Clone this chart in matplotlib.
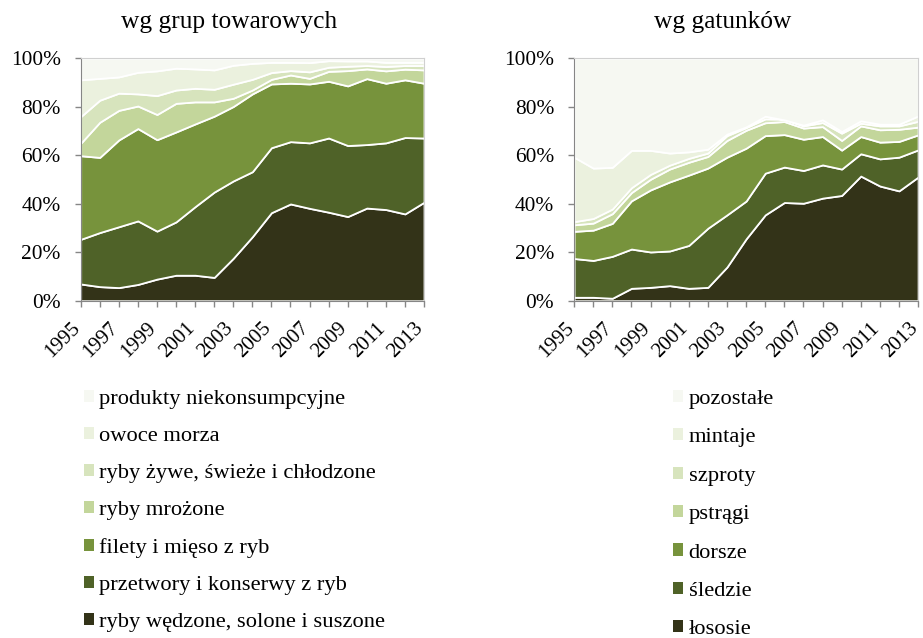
import matplotlib
matplotlib.use("Agg")
import matplotlib.pyplot as plt
import numpy as np

plt.rcParams['font.family'] = ['Liberation Serif', 'DejaVu Serif']

years = list(range(1995, 2014))

# --- wg grup towarowych (cumulative shares, %) ---
groups_labels = ["ryby wędzone, solone i suszone", "przetwory i konserwy z ryb",
                 "filety i mięso z ryb", "ryby mrożone",
                 "ryby żywe, świeże i chłodzone", "owoce morza",
                 "produkty niekonsumpcyjne"]
g_cum1 = [6.9, 5.8, 5.4, 6.7, 8.9, 10.5, 10.5, 9.6, 17.5, 26.4, 36.3, 39.9, 38.1, 36.5, 34.7, 38.2, 37.6, 35.8, 40.6]
g_cum2 = [25.3, 28.1, 30.5, 32.9, 28.7, 32.5, 38.8, 44.8, 49.4, 53.2, 63.1, 65.6, 65.1, 67.1, 64.0, 64.4, 65.1, 67.3, 67.1]
g_cum3 = [59.8, 59.1, 66.3, 71.0, 66.4, 69.6, 72.9, 76.1, 80.1, 85.3, 89.4, 89.7, 89.4, 90.5, 88.6, 91.6, 89.7, 91.1, 89.7]
g_cum4 = [64.9, 73.6, 78.5, 80.3, 76.8, 81.4, 82.0, 82.0, 83.5, 86.9, 91.3, 93.1, 91.7, 94.6, 94.9, 95.6, 94.8, 95.5, 95.2]
g_cum5 = [75.9, 82.7, 85.6, 85.3, 84.6, 86.9, 87.6, 87.2, 89.3, 91.3, 94.1, 94.9, 94.4, 96.3, 96.7, 97.0, 96.6, 97.0, 97.0]
g_cum6 = [91.1, 91.7, 92.3, 94.2, 94.8, 95.9, 95.6, 95.2, 97.1, 97.9, 98.3, 98.3, 98.2, 99.0, 98.9, 98.9, 98.3, 98.3, 98.3]

# --- wg gatunków (cumulative shares, %) ---
species_labels = ["łososie", "śledzie", "dorsze", "pstrągi", "szproty", "mintaje", "pozostałe"]
s_cum1 = [1.4, 1.4, 1.0, 5.1, 5.5, 6.2, 5.1, 5.5, 13.9, 25.5, 35.4, 40.5, 40.2, 42.3, 43.4, 51.4, 47.3, 45.3, 51.0]
s_cum2 = [17.4, 16.6, 18.3, 21.3, 20.1, 20.5, 22.8, 29.9, 35.4, 41.1, 52.6, 55.1, 53.7, 56.0, 54.3, 60.6, 58.5, 59.2, 62.2]
s_cum3 = [28.6, 29.1, 31.9, 41.2, 45.7, 49.0, 51.8, 54.7, 59.2, 62.9, 68.1, 68.5, 66.6, 67.7, 62.1, 67.7, 65.4, 65.7, 68.4]
s_cum4 = [31.3, 32.0, 35.9, 44.6, 50.1, 54.3, 57.1, 59.5, 66.1, 70.3, 73.4, 73.9, 71.2, 71.8, 66.1, 72.1, 70.5, 70.7, 71.6]
s_cum5 = [32.6, 33.9, 37.8, 46.6, 52.1, 55.9, 58.7, 60.9, 68.1, 71.4, 75.0, 74.9, 72.1, 73.5, 69.1, 73.2, 72.1, 72.1, 74.0]
s_cum6 = [59.2, 54.7, 55.0, 62.0, 62.0, 60.9, 61.4, 62.5, 68.7, 71.7, 76.1, 74.6, 72.4, 74.6, 69.8, 74.2, 72.8, 72.8, 76.2]

colors = ["#333318", "#4F6228", "#77933C", "#C3D69B", "#D7E4BD", "#EBF1DE", "#F6F8F2"]


def to_layers(cums):
    cums = [np.zeros(len(years))] + [np.array(c, dtype=float) for c in cums] + [np.full(len(years), 100.0)]
    return [cums[i + 1] - cums[i] for i in range(len(cums) - 1)]


fig = plt.figure(figsize=(9.23, 6.38), dpi=100)
ax1 = fig.add_axes([0.0874, 0.5287, 0.372, 0.380])
ax2 = fig.add_axes([0.622, 0.5287, 0.3727, 0.380])


def draw(ax, layers, labels, title):
    polys = ax.stackplot(years, *layers, colors=colors, labels=labels,
                         edgecolor="white", linewidth=1.3)
    ax.set_xlim(1995, 2013)
    ax.set_ylim(0, 100)
    ax.set_yticks(range(0, 101, 20))
    ax.set_yticklabels([f"{v}%" for v in range(0, 101, 20)], fontsize=15.4)
    ax.set_xticks(years)
    ax.set_xticklabels([str(y) if (y - 1995) % 2 == 0 else "" for y in years],
                       fontsize=15, rotation=45, ha="right", va="baseline",
                       rotation_mode="anchor")
    ax.tick_params(axis="both", direction="out", length=4.3, color="#868686", width=1)
    ax.tick_params(axis="y", pad=10)
    ax.tick_params(axis="x", pad=16)
    for s in ["left", "bottom"]:
        ax.spines[s].set_color("#868686")
    for s in ["top", "right"]:
        ax.spines[s].set_color("#d0d0d0")
        ax.spines[s].set_linewidth(0.8)
    ax.set_title(title, fontsize=18.3, x=0.432, pad=22)
    return polys


p1 = draw(ax1, to_layers([g_cum1, g_cum2, g_cum3, g_cum4, g_cum5, g_cum6]), groups_labels,
          "wg grup towarowych")
p2 = draw(ax2, to_layers([s_cum1, s_cum2, s_cum3, s_cum4, s_cum5, s_cum6]), species_labels,
          "wg gatunków")

for polys, labels, anchor, sp in [(p1, groups_labels, (0.0906, 0.389), 0.80),
                                   (p2, species_labels, (0.729, 0.389), 0.86)]:
    handles = []
    for poly, c in zip(polys, colors):
        handles.append(plt.Rectangle((0, 0), 1, 1, facecolor=c, edgecolor="none"))
    fig.legend(handles[::-1], labels[::-1], loc="upper left", bbox_to_anchor=anchor,
               frameon=False, fontsize=16.2, handlelength=0.45, handleheight=0.45,
               handletextpad=0.25, labelspacing=sp, borderaxespad=0, borderpad=0)

fig.savefig("out.png", dpi=100)
